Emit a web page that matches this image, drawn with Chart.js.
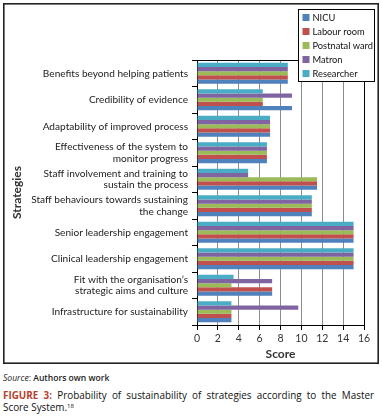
<!DOCTYPE html>
<html>
<head>
<meta charset="utf-8">
<script src="https://cdn.jsdelivr.net/npm/chart.js@4.4.1/dist/chart.umd.min.js"></script>
<style>
  html, body { margin: 0; padding: 0; background: #fff; }
  body { width: 382px; height: 417px; position: relative; overflow: hidden; }
  #c { position: absolute; left: 0; top: 0; }
  .src { position: absolute; left: 3px; top: 372px; font-family: "Open Sans", sans-serif; font-size: 8.6px; color: #222; }
  .src i { font-style: italic; font-weight: 400; }
  .src b { font-weight: 600; }
  .cap { position: absolute; left: 3px; width: 371px; font-family: "Open Sans", sans-serif; font-size: 9.9px; line-height: 12px; color: #111; white-space: nowrap; }
  .l1 { top: 389px; text-align: justify; text-align-last: justify; white-space: normal; }
  .l2 { top: 401px; }
  .cap b { color: #b8412c; font-weight: 700; }
  .cap sup { font-size: 6px; line-height: 0; vertical-align: 3px; }
</style>
</head>
<body>
<canvas id="c" width="382" height="364"></canvas>
<div class="src"><i>Source</i>: <b>Authors own work</b></div>
<div class="cap l1"><b>FIGURE 3:</b> Probability of sustainability of strategies according to the Master</div>
<div class="cap l2">Score System.<sup>18</sup></div>
<script>
// ---- data ----
const categories = [
  "Benefits beyond helping patients",
  "Credibility of evidence",
  "Adaptability of improved process",
  ["Effectiveness of the system to", "monitor progress"],
  ["Staff involvement and training to", "sustain the process"],
  ["Staff behaviours towards sustaining", "the change"],
  "Senior leadership engagement",
  "Clinical leadership engagement",
  ["Fit with the organisation\u2019s", "strategic aims and culture"],
  "Infrastructure for sustainability"
];
const seriesNames = ["NICU", "Labour room", "Postnatal ward", "Matron", "Researcher"];
const nicu       = [8.7, 9.1, 7.0, 6.7, 11.5, 11.0, 15, 15, 7.2, 3.3];
const labourRoom = [8.7, 6.3, 7.0, 6.7, 11.5, 11.0, 15, 15, 7.2, 3.3];
const postnatal  = [8.7, 6.3, 7.0, 6.7, 11.5, 11.0, 15, 15, 3.3, 3.3];
const matron     = [8.7, 9.1, 7.0, 6.7, 4.9, 11.0, 15, 15, 7.2, 9.7];
const researcher = [8.7, 6.3, 7.0, 6.7, 4.9, 11.0, 15, 15, 3.5, 3.3];
const xTicks = [0, 2, 4, 6, 8, 10, 12, 14, 16];

// ---- styles ----
const colors = ["#4F81BD", "#C0504D", "#9BBB59", "#8064A2", "#4BACC6"];
const seriesData = [nicu, labourRoom, postnatal, matron, researcher];
const labelFont = "Lato, 'Open Sans', sans-serif";

// datasets top-to-bottom within a category: Researcher ... NICU
const datasets = seriesNames.map((name, i) => ({
  label: name,
  data: seriesData[i],
  backgroundColor: colors[i],
  borderWidth: 0,
  categoryPercentage: 0.8,
  barPercentage: 1.0
})).reverse();

const framePlugin = {
  id: 'frame',
  afterDraw(chart) {
    const ctx = chart.ctx;
    const a = chart.chartArea;
    ctx.save();
    ctx.strokeStyle = '#000';
    ctx.lineWidth = 1;
    ctx.beginPath();
    ctx.moveTo(a.left, Math.round(a.top) + 0.5);
    ctx.lineTo(a.right, Math.round(a.top) + 0.5);
    ctx.stroke();
    ctx.strokeStyle = '#222';
    ctx.lineWidth = 1.6;
    ctx.strokeRect(3.8, 3.8, chart.width - 7.6, chart.height - 4.6);
    const lx = 298.5, ly = 9.5, lw = 76, lh = 72;
    ctx.fillStyle = '#fff';
    ctx.fillRect(lx, ly, lw, lh);
    ctx.strokeStyle = '#000';
    ctx.lineWidth = 1;
    ctx.strokeRect(lx, ly, lw, lh);
    ctx.font = "9.3px " + labelFont;
    ctx.textBaseline = 'middle';
    ctx.textAlign = 'left';
    seriesNames.forEach((name, i) => {
      const cy = ly + 8 + i * 14;
      ctx.fillStyle = colors[i];
      ctx.fillRect(lx + 4, cy - 3.5, 7, 7);
      ctx.fillStyle = '#111';
      ctx.fillText(name, lx + 14, cy);
    });
    ctx.restore();
  }
};

new Chart(document.getElementById('c'), {
  type: 'bar',
  data: { labels: categories, datasets },
  options: {
    indexAxis: 'y',
    responsive: false,
    animation: false,
    devicePixelRatio: 1,
    layout: { padding: { left: 0, right: 18, top: 60, bottom: 0 } },
    plugins: { legend: { display: false }, tooltip: { enabled: false } },
    scales: {
      x: {
        min: 0, max: 16,
        afterBuildTicks(s) { s.ticks = xTicks.map(v => ({ value: v })); },
        afterFit(s) { s.height = 39; },
        grid: {
          color: ctx => (ctx.tick && ctx.tick.value === 16) ? '#000' : '#8c8c8c',
          lineWidth: 1,
          tickColor: '#000',
          tickLength: 5
        },
        border: { color: '#000', width: 1 },
        ticks: { color: '#333', font: { family: labelFont, size: 10.5 }, padding: 2, maxRotation: 0 },
        title: { display: true, text: 'Score', color: '#333', font: { family: labelFont, size: 12, weight: 'bold' }, padding: { top: 0, bottom: 3 } }
      },
      y: {
        afterFit(s) { s.width = 197; },
        grid: { drawOnChartArea: false, drawTicks: true, tickLength: 5, tickColor: '#000', offset: true },
        border: { color: '#000', width: 1 },
        ticks: { color: '#222', font: { family: labelFont, size: 10.1, lineHeight: 1.15 }, padding: 4, autoSkip: false },
        title: { display: true, text: 'Strategies', color: '#333', font: { family: labelFont, size: 12, weight: 'bold' }, padding: { top: 10, bottom: 0 } }
      }
    }
  },
  plugins: [framePlugin]
});
</script>
</body>
</html>
